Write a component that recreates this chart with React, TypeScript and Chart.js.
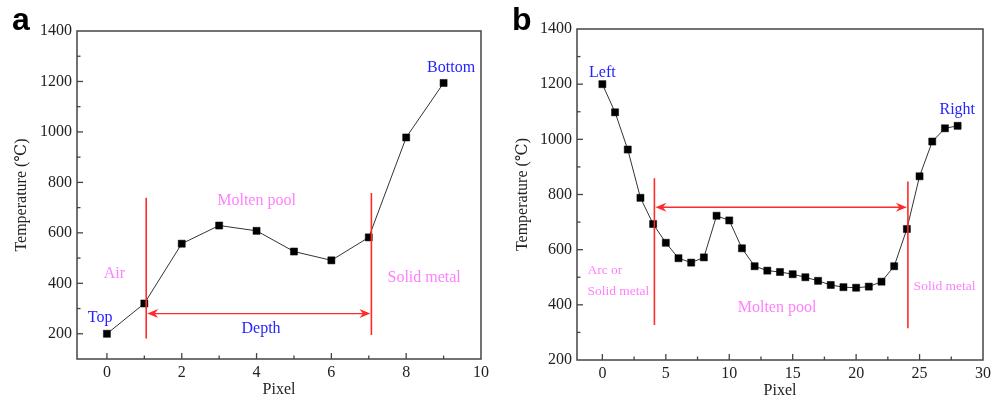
import React, { useEffect, useRef } from "react";
import { Chart, registerables } from "chart.js";

Chart.register(...registerables);

// ---------- Data: panel a ----------
const pixelsA = [0, 1, 2, 3, 4, 5, 6, 7, 8, 9];
const tempsA = [200, 320, 557, 629, 608, 526, 491, 582, 978, 1194];
const xTicksA = [0, 2, 4, 6, 8, 10];
const yTicksA = [200, 400, 600, 800, 1000, 1200, 1400];

// ---------- Data: panel b ----------
const pixelsB = [0, 1, 2, 3, 4, 5, 6, 7, 8, 9, 10, 11, 12, 13, 14, 15, 16, 17, 18, 19, 20, 21, 22, 23, 24, 25, 26, 27, 28];
const tempsB = [1200, 1098, 963, 788, 693, 625, 569, 553, 572, 723, 706, 605, 540, 524, 519, 511, 500, 487, 472, 464, 462, 466, 484, 540, 675, 866, 992, 1040, 1049];
const xTicksB = [0, 5, 10, 15, 20, 25, 30];
const yTicksB = [200, 400, 600, 800, 1000, 1200, 1400];

// ---------- Annotations (data coordinates) ----------
type Label = { text: string; x: number; y: number; color: string; size: number; align: CanvasTextAlign };
const BLUE = "#2424ff";
const PINK = "#ff80ff";
const RED = "#ff2a2a";

const labelsA: Label[] = [
  { text: "Top", x: -0.18, y: 265, color: BLUE, size: 16, align: "center" },
  { text: "Bottom", x: 9.2, y: 1254, color: BLUE, size: 16, align: "center" },
  { text: "Air", x: 0.2, y: 438, color: PINK, size: 16, align: "center" },
  { text: "Molten pool", x: 4.0, y: 727, color: PINK, size: 16, align: "center" },
  { text: "Solid metal", x: 8.48, y: 422, color: PINK, size: 16, align: "center" },
  { text: "Depth", x: 4.12, y: 221, color: BLUE, size: 16, align: "center" },
];
const vLinesA = [
  { x: 1.05, y1: 181, y2: 739 },
  { x: 7.07, y1: 195, y2: 758 },
];
const arrowA = { x1: 1.05, x2: 7.07, y: 280 };

const labelsB: Label[] = [
  { text: "Left", x: 0, y: 1240, color: BLUE, size: 16, align: "center" },
  { text: "Right", x: 27.97, y: 1107, color: BLUE, size: 16, align: "center" },
  { text: "Arc or", x: -1.18, y: 523, color: PINK, size: 13.5, align: "left" },
  { text: "Solid metal", x: -1.18, y: 450, color: PINK, size: 13.5, align: "left" },
  { text: "Molten pool", x: 13.77, y: 388, color: PINK, size: 16, align: "center" },
  { text: "Solid metal", x: 26.97, y: 466, color: PINK, size: 13.5, align: "center" },
];
const vLinesB = [
  { x: 4.1, y1: 327, y2: 859 },
  { x: 24.08, y1: 315, y2: 847 },
];
const arrowB = { x1: 4.1, x2: 24.08, y: 754 };

const SERIF = '"Liberation Serif", "Times New Roman", "DejaVu Serif", serif';

function makePlugin(
  letter: string,
  labels: Label[],
  vLines: { x: number; y1: number; y2: number }[],
  arrow: { x1: number; x2: number; y: number },
  xMajor: number[],
  yMajor: number[]
) {
  return {
    id: "decor" + letter,
    afterDatasetsDraw(chart: any) {
      const { ctx, chartArea, scales } = chart;
      const xs = scales.x;
      const ys = scales.y;
      ctx.save();
      // frame
      ctx.strokeStyle = "#444";
      ctx.lineWidth = 1.5;
      ctx.strokeRect(chartArea.left, chartArea.top, chartArea.right - chartArea.left, chartArea.bottom - chartArea.top);
      // inward ticks
      ctx.lineWidth = 1.3;
      const drawXTick = (v: number, len: number) => {
        const px = xs.getPixelForValue(v);
        if (px < chartArea.left + 1 || px > chartArea.right - 1) return;
        ctx.beginPath();
        ctx.moveTo(px, chartArea.bottom);
        ctx.lineTo(px, chartArea.bottom - len);
        ctx.stroke();
      };
      const drawYTick = (v: number, len: number) => {
        const py = ys.getPixelForValue(v);
        if (py < chartArea.top + 1 || py > chartArea.bottom - 1) return;
        ctx.beginPath();
        ctx.moveTo(chartArea.left, py);
        ctx.lineTo(chartArea.left + len, py);
        ctx.stroke();
      };
      for (let i = 0; i < xMajor.length; i++) {
        drawXTick(xMajor[i], 6);
        if (i < xMajor.length - 1) drawXTick((xMajor[i] + xMajor[i + 1]) / 2, 3.5);
      }
      for (let i = 0; i < yMajor.length; i++) {
        drawYTick(yMajor[i], 6);
        if (i < yMajor.length - 1) drawYTick((yMajor[i] + yMajor[i + 1]) / 2, 3.5);
      }
      // red lines
      ctx.strokeStyle = RED;
      ctx.fillStyle = RED;
      ctx.lineWidth = 1.6;
      for (const l of vLines) {
        const px = xs.getPixelForValue(l.x);
        ctx.beginPath();
        ctx.moveTo(px, ys.getPixelForValue(l.y1));
        ctx.lineTo(px, ys.getPixelForValue(l.y2));
        ctx.stroke();
      }
      const ax1 = xs.getPixelForValue(arrow.x1) + 1;
      const ax2 = xs.getPixelForValue(arrow.x2) - 1;
      const ay = ys.getPixelForValue(arrow.y);
      ctx.lineWidth = 1.4;
      ctx.beginPath();
      ctx.moveTo(ax1 + 6, ay);
      ctx.lineTo(ax2 - 6, ay);
      ctx.stroke();
      const head = (tip: number, dir: number) => {
        ctx.beginPath();
        ctx.moveTo(tip, ay);
        ctx.lineTo(tip + dir * 11, ay - 4.5);
        ctx.lineTo(tip + dir * 7.5, ay);
        ctx.lineTo(tip + dir * 11, ay + 4.5);
        ctx.closePath();
        ctx.fill();
      };
      head(ax1, 1);
      head(ax2, -1);
      // labels
      ctx.textBaseline = "middle";
      for (const lb of labels) {
        ctx.font = `${lb.size}px ${SERIF}`;
        ctx.fillStyle = lb.color;
        ctx.textAlign = lb.align;
        ctx.fillText(lb.text, xs.getPixelForValue(lb.x), ys.getPixelForValue(lb.y));
      }
      // panel letter
      ctx.font = 'bold 32px "Liberation Sans", Arial, sans-serif';
      ctx.fillStyle = "#000";
      ctx.textAlign = "left";
      ctx.textBaseline = "alphabetic";
      ctx.fillText(letter, 12, 30);
      ctx.restore();
    },
  };
}

function buildConfig(
  xs: number[],
  ys: number[],
  xMin: number,
  xMax: number,
  yMin: number,
  yMax: number,
  xTicks: number[],
  yTicks: number[],
  pad: { top: number; right: number },
  yWidth: number,
  xHeight: number,
  yTitlePad: number,
  xTitlePad: number,
  plugin: any
) {
  const tickFont = { family: SERIF, size: 16 };
  const plain = (v: any) => String(v);
  return {
    type: "line" as const,
    data: {
      datasets: [
        {
          data: xs.map((x, i) => ({ x, y: ys[i] })),
          borderColor: "#333",
          borderWidth: 1,
          pointStyle: "rect",
          pointRadius: 5,
          pointBackgroundColor: "#000",
          pointBorderColor: "#000",
          pointBorderWidth: 0.5,
          tension: 0,
        },
      ],
    },
    options: {
      responsive: false,
      animation: false,
      devicePixelRatio: 1,
      layout: { padding: { top: pad.top, right: pad.right, left: 0, bottom: 0 } },
      plugins: { legend: { display: false }, tooltip: { enabled: false } },
      scales: {
        x: {
          type: "linear",
          min: xMin,
          max: xMax,
          afterBuildTicks: (s: any) => {
            s.ticks = xTicks.map((v) => ({ value: v }));
          },
          afterFit: (s: any) => {
            s.height = xHeight;
          },
          grid: { display: false, drawTicks: false },
          border: { display: false },
          ticks: { font: tickFont, color: "#222", padding: 4, maxRotation: 0, autoSkip: false, callback: plain },
          title: { display: true, text: "Pixel", font: tickFont, color: "#222", padding: { top: 0, bottom: xTitlePad } },
        },
        y: {
          type: "linear",
          min: yMin,
          max: yMax,
          afterBuildTicks: (s: any) => {
            s.ticks = yTicks.map((v) => ({ value: v }));
          },
          afterFit: (s: any) => {
            s.width = yWidth;
          },
          grid: { display: false, drawTicks: false },
          border: { display: false },
          ticks: { font: tickFont, color: "#222", padding: 5, autoSkip: false, callback: plain },
          title: { display: true, text: "Temperature (℃)", font: tickFont, color: "#222", padding: { top: yTitlePad, bottom: 0 } },
        },
      },
    },
    plugins: [plugin],
  };
}

export default function App() {
  const refA = useRef<HTMLCanvasElement>(null);
  const refB = useRef<HTMLCanvasElement>(null);

  useEffect(() => {
    const cA = new Chart(
      refA.current as HTMLCanvasElement,
      buildConfig(pixelsA, tempsA, -0.8, 10, 100, 1400, xTicksA, yTicksA, { top: 31, right: 19 }, 77, 43, 12, 3,
        makePlugin("a", labelsA, vLinesA, arrowA, xTicksA, yTicksA)) as any
    );
    const cB = new Chart(
      refB.current as HTMLCanvasElement,
      buildConfig(pixelsB, tempsB, -2, 30, 200, 1400, xTicksB, yTicksB, { top: 29, right: 22 }, 77, 42, 13, 2,
        makePlugin("b", labelsB, vLinesB, arrowB, xTicksB, yTicksB)) as any
    );
    return () => {
      cA.destroy();
      cB.destroy();
    };
  }, []);

  return (
    <div style={{ position: "fixed", left: 0, top: 0, width: 1005, height: 402, background: "#fff" }}>
      <canvas ref={refA} width={500} height={402} style={{ position: "absolute", left: 0, top: 0 }} />
      <canvas ref={refB} width={505} height={402} style={{ position: "absolute", left: 500, top: 0 }} />
    </div>
  );
}
